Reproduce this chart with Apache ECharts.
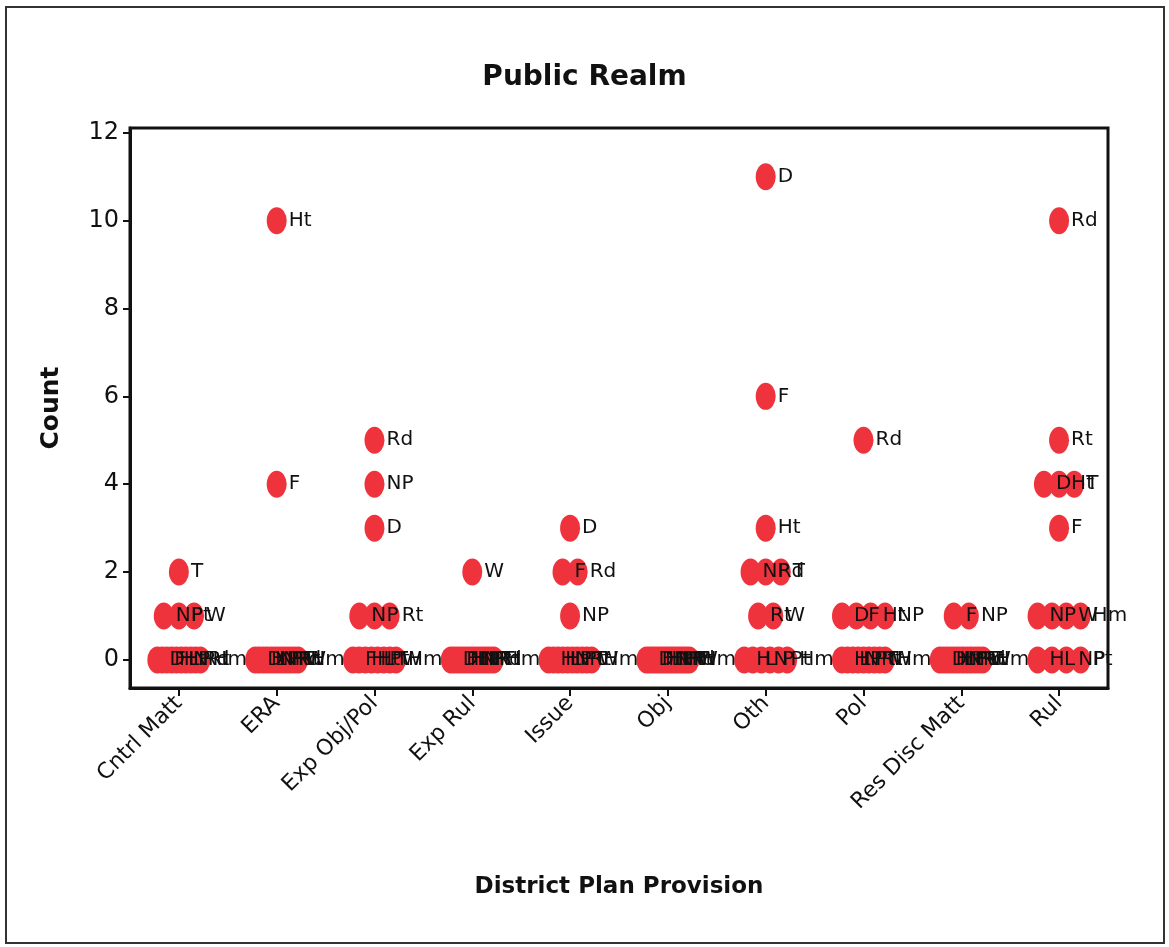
<!DOCTYPE html>
<html>
<head>
<meta charset="utf-8">
<script src="https://cdn.jsdelivr.net/npm/echarts@6/dist/echarts.min.js"></script>
<style>
  html, body { margin: 0; padding: 0; background: #fff; }
  #chart { position: absolute; left: 0; top: 0; width: 1169px; height: 947px; }
  #frame { position: absolute; left: 5px; top: 6px; width: 1156px; height: 934px;
           border: 2px solid #333; pointer-events: none; }
</style>
</head>
<body>
<div id="chart"></div>
<div id="frame"></div>
<script>
// ---- data ----
const categories = ['Cntrl Matt', 'ERA', 'Exp Obj/Pol', 'Exp Rul', 'Issue', 'Obj', 'Oth', 'Pol', 'Res Disc Matt', 'Rul'];
const codes = ['D', 'F', 'H', 'Ht', 'L', 'N', 'NP', 'P', 'Pt', 'Rd', 'Rt', 'T', 'W', 'Hm'];
// counts per category, aligned with codes
const cntrlMatt   = [0, 0, 0, 0, 0, 0, 1, 0, 1, 0, 0, 2, 1, 0];
const era         = [0, 4, 0, 10, 0, 0, 0, 0, 0, 0, 0, 0, 0, 0];
const expObjPol   = [3, 0, 0, 0, 0, 1, 4, 1, 0, 5, 1, 0, 0, 0];
const expRul      = [0, 0, 0, 0, 0, 0, 0, 0, 0, 0, 0, 0, 2, 0];
const issue       = [3, 2, 0, 0, 0, 0, 1, 0, 0, 2, 0, 0, 0, 0];
const obj         = [0, 0, 0, 0, 0, 0, 0, 0, 0, 0, 0, 0, 0, 0];
const oth         = [11, 6, 0, 3, 0, 0, 2, 0, 0, 2, 1, 2, 1, 0];
const pol         = [1, 1, 0, 1, 0, 0, 1, 0, 0, 5, 0, 0, 0, 0];
const resDiscMatt = [0, 1, 0, 0, 0, 0, 1, 0, 0, 0, 0, 0, 0, 0];
const rul         = [4, 3, 0, 4, 0, 1, 0, 1, 0, 10, 5, 4, 1, 1];
const yTicks = [0, 2, 4, 6, 8, 10, 12];

const countsByCategory = [cntrlMatt, era, expObjPol, expRul, issue, obj, oth, pol, resDiscMatt, rul];

// ---- build jittered dot-plot points (points sharing a value spread side by side) ----
const points = [];
countsByCategory.forEach((counts, ci) => {
  const groups = {};
  counts.forEach((v, k) => { (groups[v] = groups[v] || []).push(codes[k]); });
  Object.keys(groups).forEach(v => {
    const names = groups[v];
    const n = names.length;
    const step = n > 1 ? Math.min(0.155, 0.44 / (n - 1)) : 0;
    names.forEach((name, j) => {
      points.push({ name: name, value: [ci + (j - (n - 1) / 2) * step, Number(v)] });
    });
  });
});

const FONT = 'DejaVu Sans';
const chart = echarts.init(document.getElementById('chart'), null, { renderer: 'canvas' });
chart.setOption({
  animation: false,
  backgroundColor: '#fff',
  title: {
    text: 'Public Realm',
    left: 'center',
    top: 59,
    textStyle: { fontFamily: FONT, fontWeight: 'bold', fontSize: 28, color: '#111' }
  },
  grid: {
    left: 130, right: 61, top: 128, bottom: 259,
    show: true, borderColor: '#111', borderWidth: 3, backgroundColor: '#fff'
  },
  xAxis: {
    type: 'value',
    min: -0.5, max: 9.5,
    name: 'District Plan Provision',
    nameLocation: 'middle',
    nameGap: 188,
    nameTextStyle: { fontFamily: FONT, fontWeight: 'bold', fontSize: 23, color: '#111' },
    axisLine: { show: true, onZero: false, lineStyle: { color: '#111', width: 3 } },
    axisTick: { show: true, customValues: categories.map((c, i) => i), length: 8, lineStyle: { color: '#111', width: 2 } },
    axisLabel: {
      customValues: categories.map((c, i) => i),
      formatter: v => categories[Math.round(v)],
      rotate: 45, margin: 12,
      fontFamily: FONT, fontSize: 22, color: '#111'
    },
    splitLine: { show: false }
  },
  yAxis: {
    type: 'value',
    min: -0.64, max: 12.11,
    name: 'Count',
    nameLocation: 'middle',
    nameGap: 66,
    nameTextStyle: { fontFamily: FONT, fontWeight: 'bold', fontSize: 25, color: '#111' },
    axisLine: { show: true, onZero: false, lineStyle: { color: '#111', width: 3 } },
    axisTick: { show: true, customValues: yTicks, length: 7, lineStyle: { color: '#111', width: 2 } },
    axisLabel: { customValues: yTicks, margin: 11, fontFamily: FONT, fontSize: 24, color: '#111' },
    splitLine: { show: false }
  },
  series: [{
    type: 'scatter',
    symbol: 'circle',
    symbolSize: [20, 27],
    itemStyle: { color: '#EF333D', opacity: 1 },
    label: {
      show: true, position: 'right', distance: 2,
      formatter: '{b}',
      fontFamily: FONT, fontSize: 20, color: '#111'
    },
    data: points
  }]
});
</script>
</body>
</html>
